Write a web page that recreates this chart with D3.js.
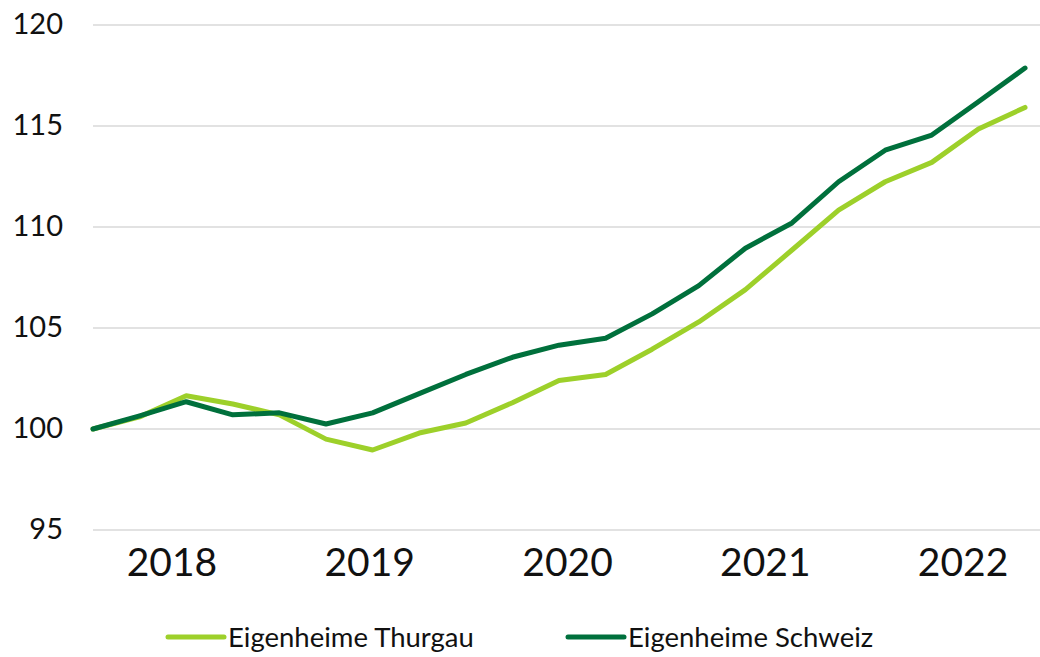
<!DOCTYPE html>
<html>
<head>
<meta charset="utf-8">
<script src="https://cdn.jsdelivr.net/npm/d3@7"></script>
<style>
  body { margin: 0; background: #fff; }
  svg { display: block; font-family: Lato, "Noto Sans", sans-serif; }
</style>
</head>
<body>
<div id="chart"></div>
<script>
// quarterly index values, 2018 Q1 = 100
const quarters = d3.range(21).map(i => `${2018 + Math.floor(i / 4)} Q${(i % 4) + 1}`);
const thurgau = [100, 100.6, 101.65, 101.24, 100.7, 99.5, 98.96, 99.8, 100.3, 101.3, 102.4,
                 102.7, 103.95, 105.3, 106.9, 108.86, 110.84, 112.24, 113.2, 114.85, 115.92];
const schweiz = [100, 100.65, 101.35, 100.7, 100.8, 100.25, 100.8, 101.75, 102.7, 103.55, 104.15,
                 104.49, 105.7, 107.1, 108.95, 110.2, 112.24, 113.8, 114.55, 116.2, 117.87];
const yearLabels = ["2018", "2019", "2020", "2021", "2022"];
const yTicks = [95, 100, 105, 110, 115, 120];

const seriesNames = ["Eigenheime Thurgau", "Eigenheime Schweiz"];
const seriesColors = ["#9dd02a", "#00703c"];

const width = 1040;
const height = 657;

const svg = d3.select("#chart").append("svg")
    .attr("width", width)
    .attr("height", height);

// scales
const x = d3.scaleLinear()
    .domain([0, quarters.length - 1])
    .range([93, 1025]);

const y = d3.scaleLinear()
    .domain([95, 120])
    .range([530, 25]);

const xYear = d3.scaleBand()
    .domain(yearLabels)
    .range([73, 1062]);

// gridlines
svg.append("g")
    .selectAll("line")
    .data(yTicks)
    .join("line")
    .attr("x1", 93)
    .attr("x2", width)
    .attr("y1", d => y(d))
    .attr("y2", d => y(d))
    .attr("stroke", "#d9d9d9")
    .attr("stroke-width", 1.5);

// y axis labels
svg.append("g")
    .attr("transform", "translate(63,0)")
    .call(d3.axisLeft(y).tickValues(yTicks).tickSize(0).tickPadding(0))
    .call(g => g.select(".domain").remove())
    .call(g => g.selectAll(".tick text")
        .attr("font-family", "Lato, sans-serif")
        .attr("font-size", 29)
        .attr("fill", "#111")
        .attr("dy", "0.3em"));

// x axis year labels
svg.append("g")
    .attr("transform", "translate(0,548)")
    .call(d3.axisBottom(xYear).tickSize(0).tickPadding(0))
    .call(g => g.select(".domain").remove())
    .call(g => g.selectAll(".tick text")
        .attr("font-family", "Lato, sans-serif")
        .attr("font-size", 39)
        .attr("fill", "#111")
        .attr("dy", "0.72em"));

// lines
const line = d3.line()
    .x((d, i) => x(i))
    .y(d => y(d));

svg.append("g")
    .selectAll("path")
    .data([thurgau, schweiz])
    .join("path")
    .attr("d", line)
    .attr("fill", "none")
    .attr("stroke", (d, i) => seriesColors[i])
    .attr("stroke-width", 5)
    .attr("stroke-linejoin", "round")
    .attr("stroke-linecap", "round");

// legend
const legendX = [168, 568];
const legend = svg.append("g")
    .selectAll("g")
    .data(seriesNames)
    .join("g")
    .attr("transform", (d, i) => `translate(${legendX[i]},637)`);

legend.append("line")
    .attr("x1", 0)
    .attr("x2", 56)
    .attr("stroke", (d, i) => seriesColors[i])
    .attr("stroke-width", 5)
    .attr("stroke-linecap", "round");

legend.append("text")
    .attr("x", 60)
    .attr("y", 10)
    .attr("font-size", 27.5)
    .attr("fill", "#111")
    .text(d => d);
</script>
</body>
</html>
